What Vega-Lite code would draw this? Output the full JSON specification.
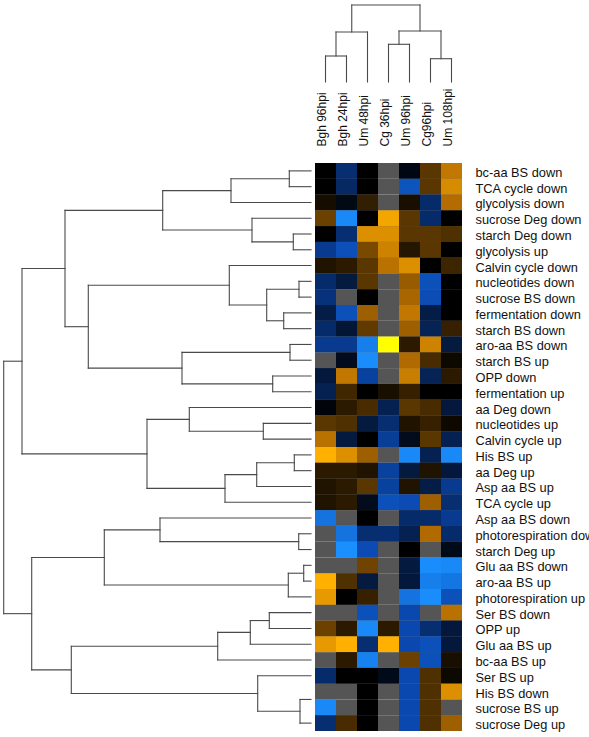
{
  "$schema": "https://vega.github.io/schema/vega-lite/v6.json",
  "padding": {"left": 2, "top": 4, "right": 0, "bottom": 0},
  "background": "white",
  "columns": 2,
  "spacing": {"row": 81, "column": 4},
  "bounds": "flush",
  "config": {
    "view": {"stroke": null},
    "font": "Liberation Sans",
    "axis": {"labelFont": "Liberation Sans", "labelFontSize": 12, "labelColor": "#111"}
  },
  "datasets": {
    "colTree": [
      {"x1": 0.5, "x2": 1.5, "h1": 26, "h2": 26},
      {"x1": 0.5, "x2": 0.5, "h1": 0, "h2": 26},
      {"x1": 1.5, "x2": 1.5, "h1": 0, "h2": 26},
      {"x1": 1.0, "x2": 2.5, "h1": 50, "h2": 50},
      {"x1": 1.0, "x2": 1.0, "h1": 26, "h2": 50},
      {"x1": 2.5, "x2": 2.5, "h1": 0, "h2": 50},
      {"x1": 3.5, "x2": 4.5, "h1": 37.7, "h2": 37.7},
      {"x1": 3.5, "x2": 3.5, "h1": 0, "h2": 37.7},
      {"x1": 4.5, "x2": 4.5, "h1": 0, "h2": 37.7},
      {"x1": 5.5, "x2": 6.5, "h1": 23.3, "h2": 23.3},
      {"x1": 5.5, "x2": 5.5, "h1": 0, "h2": 23.3},
      {"x1": 6.5, "x2": 6.5, "h1": 0, "h2": 23.3},
      {"x1": 4.0, "x2": 6.0, "h1": 51, "h2": 51},
      {"x1": 4.0, "x2": 4.0, "h1": 37.7, "h2": 51},
      {"x1": 6.0, "x2": 6.0, "h1": 23.3, "h2": 51},
      {"x1": 1.75, "x2": 5.0, "h1": 77, "h2": 77},
      {"x1": 1.75, "x2": 1.75, "h1": 50, "h2": 77},
      {"x1": 5.0, "x2": 5.0, "h1": 51, "h2": 77}
    ],
    "rowTree": [
      {"h1": 21.7, "h2": 21.7, "u1": 0.5, "u2": 1.5}, {"h1": 0, "h2": 21.7, "u1": 0.5, "u2": 0.5}, {"h1": 0, "h2": 21.7, "u1": 1.5, "u2": 1.5},
      {"h1": 80, "h2": 80, "u1": 1.0, "u2": 2.5}, {"h1": 21.7, "h2": 80, "u1": 1.0, "u2": 1.0}, {"h1": 0, "h2": 80, "u1": 2.5, "u2": 2.5},
      {"h1": 17.7, "h2": 17.7, "u1": 4.5, "u2": 5.5}, {"h1": 0, "h2": 17.7, "u1": 4.5, "u2": 4.5}, {"h1": 0, "h2": 17.7, "u1": 5.5, "u2": 5.5},
      {"h1": 59, "h2": 59, "u1": 3.5, "u2": 5.0}, {"h1": 0, "h2": 59, "u1": 3.5, "u2": 3.5}, {"h1": 17.7, "h2": 59, "u1": 5.0, "u2": 5.0},
      {"h1": 148.3, "h2": 148.3, "u1": 1.75, "u2": 4.25}, {"h1": 80, "h2": 148.3, "u1": 1.75, "u2": 1.75}, {"h1": 59, "h2": 148.3, "u1": 4.25, "u2": 4.25},
      {"h1": 12, "h2": 12, "u1": 7.5, "u2": 8.5}, {"h1": 0, "h2": 12, "u1": 7.5, "u2": 7.5}, {"h1": 0, "h2": 12, "u1": 8.5, "u2": 8.5},
      {"h1": 27.3, "h2": 27.3, "u1": 9.5, "u2": 10.5}, {"h1": 0, "h2": 27.3, "u1": 9.5, "u2": 9.5}, {"h1": 0, "h2": 27.3, "u1": 10.5, "u2": 10.5},
      {"h1": 44.3, "h2": 44.3, "u1": 8.0, "u2": 10.0}, {"h1": 12, "h2": 44.3, "u1": 8.0, "u2": 8.0}, {"h1": 27.3, "h2": 44.3, "u1": 10.0, "u2": 10.0},
      {"h1": 81.7, "h2": 81.7, "u1": 6.5, "u2": 9.0}, {"h1": 0, "h2": 81.7, "u1": 6.5, "u2": 6.5}, {"h1": 44.3, "h2": 81.7, "u1": 9.0, "u2": 9.0},
      {"h1": 21, "h2": 21, "u1": 11.5, "u2": 12.5}, {"h1": 0, "h2": 21, "u1": 11.5, "u2": 11.5}, {"h1": 0, "h2": 21, "u1": 12.5, "u2": 12.5},
      {"h1": 38.3, "h2": 38.3, "u1": 13.5, "u2": 14.5}, {"h1": 0, "h2": 38.3, "u1": 13.5, "u2": 13.5}, {"h1": 0, "h2": 38.3, "u1": 14.5, "u2": 14.5},
      {"h1": 129, "h2": 129, "u1": 12.0, "u2": 14.0}, {"h1": 21, "h2": 129, "u1": 12.0, "u2": 12.0}, {"h1": 38.3, "h2": 129, "u1": 14.0, "u2": 14.0},
      {"h1": 222.7, "h2": 222.7, "u1": 7.75, "u2": 13.0}, {"h1": 81.7, "h2": 222.7, "u1": 7.75, "u2": 7.75}, {"h1": 129, "h2": 222.7, "u1": 13.0, "u2": 13.0},
      {"h1": 246, "h2": 246, "u1": 3.0, "u2": 10.375}, {"h1": 148.3, "h2": 246, "u1": 3.0, "u2": 3.0}, {"h1": 222.7, "h2": 246, "u1": 10.375, "u2": 10.375},
      {"h1": 47.7, "h2": 47.7, "u1": 16.5, "u2": 17.5}, {"h1": 0, "h2": 47.7, "u1": 16.5, "u2": 16.5}, {"h1": 0, "h2": 47.7, "u1": 17.5, "u2": 17.5},
      {"h1": 121.7, "h2": 121.7, "u1": 15.5, "u2": 17.0}, {"h1": 0, "h2": 121.7, "u1": 15.5, "u2": 15.5}, {"h1": 47.7, "h2": 121.7, "u1": 17.0, "u2": 17.0},
      {"h1": 16.7, "h2": 16.7, "u1": 18.5, "u2": 19.5}, {"h1": 0, "h2": 16.7, "u1": 18.5, "u2": 18.5}, {"h1": 0, "h2": 16.7, "u1": 19.5, "u2": 19.5},
      {"h1": 54.3, "h2": 54.3, "u1": 19.0, "u2": 20.5}, {"h1": 16.7, "h2": 54.3, "u1": 19.0, "u2": 19.0}, {"h1": 0, "h2": 54.3, "u1": 20.5, "u2": 20.5},
      {"h1": 86, "h2": 86, "u1": 19.75, "u2": 21.5}, {"h1": 54.3, "h2": 86, "u1": 19.75, "u2": 19.75}, {"h1": 0, "h2": 86, "u1": 21.5, "u2": 21.5},
      {"h1": 164, "h2": 164, "u1": 16.25, "u2": 20.625}, {"h1": 121.7, "h2": 164, "u1": 16.25, "u2": 16.25}, {"h1": 86, "h2": 164, "u1": 20.625, "u2": 20.625},
      {"h1": 289, "h2": 289, "u1": 6.6875, "u2": 18.4375}, {"h1": 246, "h2": 289, "u1": 6.6875, "u2": 6.6875}, {"h1": 164, "h2": 289, "u1": 18.4375, "u2": 18.4375},
      {"h1": 12.3, "h2": 12.3, "u1": 23.5, "u2": 24.5}, {"h1": 0, "h2": 12.3, "u1": 23.5, "u2": 23.5}, {"h1": 0, "h2": 12.3, "u1": 24.5, "u2": 24.5},
      {"h1": 151, "h2": 151, "u1": 22.5, "u2": 24.0}, {"h1": 0, "h2": 151, "u1": 22.5, "u2": 22.5}, {"h1": 12.3, "h2": 151, "u1": 24.0, "u2": 24.0},
      {"h1": 7.3, "h2": 7.3, "u1": 25.5, "u2": 26.5}, {"h1": 0, "h2": 7.3, "u1": 25.5, "u2": 25.5}, {"h1": 0, "h2": 7.3, "u1": 26.5, "u2": 26.5},
      {"h1": 22.7, "h2": 22.7, "u1": 26.0, "u2": 27.5}, {"h1": 7.3, "h2": 22.7, "u1": 26.0, "u2": 26.0}, {"h1": 0, "h2": 22.7, "u1": 27.5, "u2": 27.5},
      {"h1": 206.7, "h2": 206.7, "u1": 23.25, "u2": 26.75}, {"h1": 151, "h2": 206.7, "u1": 23.25, "u2": 23.25}, {"h1": 22.7, "h2": 206.7, "u1": 26.75, "u2": 26.75},
      {"h1": 41.7, "h2": 41.7, "u1": 28.5, "u2": 29.5}, {"h1": 0, "h2": 41.7, "u1": 28.5, "u2": 28.5}, {"h1": 0, "h2": 41.7, "u1": 29.5, "u2": 29.5},
      {"h1": 60.7, "h2": 60.7, "u1": 29.0, "u2": 30.5}, {"h1": 41.7, "h2": 60.7, "u1": 29.0, "u2": 29.0}, {"h1": 0, "h2": 60.7, "u1": 30.5, "u2": 30.5},
      {"h1": 93.3, "h2": 93.3, "u1": 29.75, "u2": 31.5}, {"h1": 60.7, "h2": 93.3, "u1": 29.75, "u2": 29.75}, {"h1": 0, "h2": 93.3, "u1": 31.5, "u2": 31.5},
      {"h1": 11, "h2": 11, "u1": 34.0, "u2": 35.5}, {"h1": 0, "h2": 11, "u1": 34.0, "u2": 34.0}, {"h1": 0, "h2": 11, "u1": 35.5, "u2": 35.5},
      {"h1": 53.3, "h2": 53.3, "u1": 32.5, "u2": 34.75}, {"h1": 0, "h2": 53.3, "u1": 32.5, "u2": 32.5}, {"h1": 11, "h2": 53.3, "u1": 34.75, "u2": 34.75},
      {"h1": 239.7, "h2": 239.7, "u1": 30.625, "u2": 33.625}, {"h1": 93.3, "h2": 239.7, "u1": 30.625, "u2": 30.625}, {"h1": 53.3, "h2": 239.7, "u1": 33.625, "u2": 33.625},
      {"h1": 279.3, "h2": 279.3, "u1": 25.0, "u2": 32.125}, {"h1": 206.7, "h2": 279.3, "u1": 25.0, "u2": 25.0}, {"h1": 239.7, "h2": 279.3, "u1": 32.125, "u2": 32.125},
      {"h1": 307.3, "h2": 307.3, "u1": 12.5625, "u2": 28.5625}, {"h1": 289, "h2": 307.3, "u1": 12.5625, "u2": 12.5625}, {"h1": 279.3, "h2": 307.3, "u1": 28.5625, "u2": 28.5625}
    ],
    "cells": [
      {"pathway": "bc-aa BS down", "sample": "Bgh 96hpi", "value": 0}, {"pathway": "bc-aa BS down", "sample": "Bgh 24hpi", "value": -0.32}, {"pathway": "bc-aa BS down", "sample": "Um 48hpi", "value": 0}, {"pathway": "bc-aa BS down", "sample": "Cg 36hpi", "value": null}, {"pathway": "bc-aa BS down", "sample": "Um 96hpi", "value": -0.05}, {"pathway": "bc-aa BS down", "sample": "Cg96hpi", "value": 0.25}, {"pathway": "bc-aa BS down", "sample": "Um 108hpi", "value": 0.55},
      {"pathway": "TCA cycle down", "sample": "Bgh 96hpi", "value": 0}, {"pathway": "TCA cycle down", "sample": "Bgh 24hpi", "value": -0.28}, {"pathway": "TCA cycle down", "sample": "Um 48hpi", "value": 0}, {"pathway": "TCA cycle down", "sample": "Cg 36hpi", "value": null}, {"pathway": "TCA cycle down", "sample": "Um 96hpi", "value": -0.58}, {"pathway": "TCA cycle down", "sample": "Cg96hpi", "value": 0.25}, {"pathway": "TCA cycle down", "sample": "Um 108hpi", "value": 0.64},
      {"pathway": "glycolysis down", "sample": "Bgh 96hpi", "value": 0.06}, {"pathway": "glycolysis down", "sample": "Bgh 24hpi", "value": -0.06}, {"pathway": "glycolysis down", "sample": "Um 48hpi", "value": 0.14}, {"pathway": "glycolysis down", "sample": "Cg 36hpi", "value": null}, {"pathway": "glycolysis down", "sample": "Um 96hpi", "value": 0.07}, {"pathway": "glycolysis down", "sample": "Cg96hpi", "value": -0.3}, {"pathway": "glycolysis down", "sample": "Um 108hpi", "value": 0.5},
      {"pathway": "sucrose Deg down", "sample": "Bgh 96hpi", "value": 0.3}, {"pathway": "sucrose Deg down", "sample": "Bgh 24hpi", "value": -0.95}, {"pathway": "sucrose Deg down", "sample": "Um 48hpi", "value": 0}, {"pathway": "sucrose Deg down", "sample": "Cg 36hpi", "value": 0.75}, {"pathway": "sucrose Deg down", "sample": "Um 96hpi", "value": 0.25}, {"pathway": "sucrose Deg down", "sample": "Cg96hpi", "value": -0.3}, {"pathway": "sucrose Deg down", "sample": "Um 108hpi", "value": 0},
      {"pathway": "starch Deg down", "sample": "Bgh 96hpi", "value": 0}, {"pathway": "starch Deg down", "sample": "Bgh 24hpi", "value": -0.32}, {"pathway": "starch Deg down", "sample": "Um 48hpi", "value": 0.66}, {"pathway": "starch Deg down", "sample": "Cg 36hpi", "value": 0.66}, {"pathway": "starch Deg down", "sample": "Um 96hpi", "value": 0.25}, {"pathway": "starch Deg down", "sample": "Cg96hpi", "value": 0.25}, {"pathway": "starch Deg down", "sample": "Um 108hpi", "value": 0.22},
      {"pathway": "glycolysis up", "sample": "Bgh 96hpi", "value": -0.41}, {"pathway": "glycolysis up", "sample": "Bgh 24hpi", "value": -0.55}, {"pathway": "glycolysis up", "sample": "Um 48hpi", "value": 0.34}, {"pathway": "glycolysis up", "sample": "Cg 36hpi", "value": 0.6}, {"pathway": "glycolysis up", "sample": "Um 96hpi", "value": 0.1}, {"pathway": "glycolysis up", "sample": "Cg96hpi", "value": 0.25}, {"pathway": "glycolysis up", "sample": "Um 108hpi", "value": 0},
      {"pathway": "Calvin cycle down", "sample": "Bgh 96hpi", "value": 0.09}, {"pathway": "Calvin cycle down", "sample": "Bgh 24hpi", "value": 0.12}, {"pathway": "Calvin cycle down", "sample": "Um 48hpi", "value": 0.25}, {"pathway": "Calvin cycle down", "sample": "Cg 36hpi", "value": 0.52}, {"pathway": "Calvin cycle down", "sample": "Um 96hpi", "value": 0.66}, {"pathway": "Calvin cycle down", "sample": "Cg96hpi", "value": 0}, {"pathway": "Calvin cycle down", "sample": "Um 108hpi", "value": 0.17},
      {"pathway": "nucleotides down", "sample": "Bgh 96hpi", "value": -0.3}, {"pathway": "nucleotides down", "sample": "Bgh 24hpi", "value": -0.18}, {"pathway": "nucleotides down", "sample": "Um 48hpi", "value": 0.25}, {"pathway": "nucleotides down", "sample": "Cg 36hpi", "value": null}, {"pathway": "nucleotides down", "sample": "Um 96hpi", "value": 0.42}, {"pathway": "nucleotides down", "sample": "Cg96hpi", "value": -0.56}, {"pathway": "nucleotides down", "sample": "Um 108hpi", "value": 0},
      {"pathway": "sucrose BS down", "sample": "Bgh 96hpi", "value": -0.35}, {"pathway": "sucrose BS down", "sample": "Bgh 24hpi", "value": null}, {"pathway": "sucrose BS down", "sample": "Um 48hpi", "value": 0}, {"pathway": "sucrose BS down", "sample": "Cg 36hpi", "value": null}, {"pathway": "sucrose BS down", "sample": "Um 96hpi", "value": 0.47}, {"pathway": "sucrose BS down", "sample": "Cg96hpi", "value": -0.53}, {"pathway": "sucrose BS down", "sample": "Um 108hpi", "value": 0},
      {"pathway": "fermentation down", "sample": "Bgh 96hpi", "value": -0.2}, {"pathway": "fermentation down", "sample": "Bgh 24hpi", "value": -0.56}, {"pathway": "fermentation down", "sample": "Um 48hpi", "value": 0.44}, {"pathway": "fermentation down", "sample": "Cg 36hpi", "value": null}, {"pathway": "fermentation down", "sample": "Um 96hpi", "value": 0.55}, {"pathway": "fermentation down", "sample": "Cg96hpi", "value": -0.2}, {"pathway": "fermentation down", "sample": "Um 108hpi", "value": 0},
      {"pathway": "starch BS down", "sample": "Bgh 96hpi", "value": -0.3}, {"pathway": "starch BS down", "sample": "Bgh 24hpi", "value": -0.15}, {"pathway": "starch BS down", "sample": "Um 48hpi", "value": 0.27}, {"pathway": "starch BS down", "sample": "Cg 36hpi", "value": null}, {"pathway": "starch BS down", "sample": "Um 96hpi", "value": 0.44}, {"pathway": "starch BS down", "sample": "Cg96hpi", "value": -0.24}, {"pathway": "starch BS down", "sample": "Um 108hpi", "value": 0.15},
      {"pathway": "aro-aa BS down", "sample": "Bgh 96hpi", "value": -0.41}, {"pathway": "aro-aa BS down", "sample": "Bgh 24hpi", "value": -0.41}, {"pathway": "aro-aa BS down", "sample": "Um 48hpi", "value": -0.88}, {"pathway": "aro-aa BS down", "sample": "Cg 36hpi", "value": 1.0}, {"pathway": "aro-aa BS down", "sample": "Um 96hpi", "value": 0.12}, {"pathway": "aro-aa BS down", "sample": "Cg96hpi", "value": 0.6}, {"pathway": "aro-aa BS down", "sample": "Um 108hpi", "value": -0.18},
      {"pathway": "starch BS up", "sample": "Bgh 96hpi", "value": null}, {"pathway": "starch BS up", "sample": "Bgh 24hpi", "value": -0.08}, {"pathway": "starch BS up", "sample": "Um 48hpi", "value": -0.98}, {"pathway": "starch BS up", "sample": "Cg 36hpi", "value": null}, {"pathway": "starch BS up", "sample": "Um 96hpi", "value": 0.49}, {"pathway": "starch BS up", "sample": "Cg96hpi", "value": 0.2}, {"pathway": "starch BS up", "sample": "Um 108hpi", "value": 0.04},
      {"pathway": "OPP down", "sample": "Bgh 96hpi", "value": -0.17}, {"pathway": "OPP down", "sample": "Bgh 24hpi", "value": 0.55}, {"pathway": "OPP down", "sample": "Um 48hpi", "value": -0.45}, {"pathway": "OPP down", "sample": "Cg 36hpi", "value": null}, {"pathway": "OPP down", "sample": "Um 96hpi", "value": 0.58}, {"pathway": "OPP down", "sample": "Cg96hpi", "value": -0.24}, {"pathway": "OPP down", "sample": "Um 108hpi", "value": 0.12},
      {"pathway": "fermentation up", "sample": "Bgh 96hpi", "value": -0.23}, {"pathway": "fermentation up", "sample": "Bgh 24hpi", "value": 0.18}, {"pathway": "fermentation up", "sample": "Um 48hpi", "value": 0}, {"pathway": "fermentation up", "sample": "Cg 36hpi", "value": 0.07}, {"pathway": "fermentation up", "sample": "Um 96hpi", "value": 0.15}, {"pathway": "fermentation up", "sample": "Cg96hpi", "value": 0}, {"pathway": "fermentation up", "sample": "Um 108hpi", "value": 0},
      {"pathway": "aa Deg down", "sample": "Bgh 96hpi", "value": -0.03}, {"pathway": "aa Deg down", "sample": "Bgh 24hpi", "value": 0.12}, {"pathway": "aa Deg down", "sample": "Um 48hpi", "value": 0.2}, {"pathway": "aa Deg down", "sample": "Cg 36hpi", "value": -0.23}, {"pathway": "aa Deg down", "sample": "Um 96hpi", "value": 0.25}, {"pathway": "aa Deg down", "sample": "Cg96hpi", "value": 0.2}, {"pathway": "aa Deg down", "sample": "Um 108hpi", "value": -0.17},
      {"pathway": "nucleotides up", "sample": "Bgh 96hpi", "value": 0.25}, {"pathway": "nucleotides up", "sample": "Bgh 24hpi", "value": 0.22}, {"pathway": "nucleotides up", "sample": "Um 48hpi", "value": -0.18}, {"pathway": "nucleotides up", "sample": "Cg 36hpi", "value": -0.32}, {"pathway": "nucleotides up", "sample": "Um 96hpi", "value": 0.09}, {"pathway": "nucleotides up", "sample": "Cg96hpi", "value": 0.15}, {"pathway": "nucleotides up", "sample": "Um 108hpi", "value": 0.04},
      {"pathway": "Calvin cycle up", "sample": "Bgh 96hpi", "value": 0.52}, {"pathway": "Calvin cycle up", "sample": "Bgh 24hpi", "value": -0.18}, {"pathway": "Calvin cycle up", "sample": "Um 48hpi", "value": 0}, {"pathway": "Calvin cycle up", "sample": "Cg 36hpi", "value": -0.43}, {"pathway": "Calvin cycle up", "sample": "Um 96hpi", "value": -0.08}, {"pathway": "Calvin cycle up", "sample": "Cg96hpi", "value": 0.25}, {"pathway": "Calvin cycle up", "sample": "Um 108hpi", "value": -0.23},
      {"pathway": "His BS up", "sample": "Bgh 96hpi", "value": 0.8}, {"pathway": "His BS up", "sample": "Bgh 24hpi", "value": 0.66}, {"pathway": "His BS up", "sample": "Um 48hpi", "value": 0.44}, {"pathway": "His BS up", "sample": "Cg 36hpi", "value": null}, {"pathway": "His BS up", "sample": "Um 96hpi", "value": -0.95}, {"pathway": "His BS up", "sample": "Cg96hpi", "value": -0.23}, {"pathway": "His BS up", "sample": "Um 108hpi", "value": -0.95},
      {"pathway": "aa Deg up", "sample": "Bgh 96hpi", "value": 0.12}, {"pathway": "aa Deg up", "sample": "Bgh 24hpi", "value": 0.12}, {"pathway": "aa Deg up", "sample": "Um 48hpi", "value": 0.09}, {"pathway": "aa Deg up", "sample": "Cg 36hpi", "value": -0.45}, {"pathway": "aa Deg up", "sample": "Um 96hpi", "value": -0.18}, {"pathway": "aa Deg up", "sample": "Cg96hpi", "value": 0.09}, {"pathway": "aa Deg up", "sample": "Um 108hpi", "value": -0.17},
      {"pathway": "Asp aa BS up", "sample": "Bgh 96hpi", "value": 0.09}, {"pathway": "Asp aa BS up", "sample": "Bgh 24hpi", "value": 0.12}, {"pathway": "Asp aa BS up", "sample": "Um 48hpi", "value": 0.25}, {"pathway": "Asp aa BS up", "sample": "Cg 36hpi", "value": -0.45}, {"pathway": "Asp aa BS up", "sample": "Um 96hpi", "value": 0.09}, {"pathway": "Asp aa BS up", "sample": "Cg96hpi", "value": -0.2}, {"pathway": "Asp aa BS up", "sample": "Um 108hpi", "value": -0.41},
      {"pathway": "TCA cycle up", "sample": "Bgh 96hpi", "value": 0.09}, {"pathway": "TCA cycle up", "sample": "Bgh 24hpi", "value": 0.12}, {"pathway": "TCA cycle up", "sample": "Um 48hpi", "value": -0.08}, {"pathway": "TCA cycle up", "sample": "Cg 36hpi", "value": -0.56}, {"pathway": "TCA cycle up", "sample": "Um 96hpi", "value": -0.52}, {"pathway": "TCA cycle up", "sample": "Cg96hpi", "value": 0.44}, {"pathway": "TCA cycle up", "sample": "Um 108hpi", "value": -0.32},
      {"pathway": "Asp aa BS down", "sample": "Bgh 96hpi", "value": -0.8}, {"pathway": "Asp aa BS down", "sample": "Bgh 24hpi", "value": null}, {"pathway": "Asp aa BS down", "sample": "Um 48hpi", "value": 0}, {"pathway": "Asp aa BS down", "sample": "Cg 36hpi", "value": null}, {"pathway": "Asp aa BS down", "sample": "Um 96hpi", "value": -0.3}, {"pathway": "Asp aa BS down", "sample": "Cg96hpi", "value": -0.3}, {"pathway": "Asp aa BS down", "sample": "Um 108hpi", "value": -0.41},
      {"pathway": "photorespiration down", "sample": "Bgh 96hpi", "value": null}, {"pathway": "photorespiration down", "sample": "Bgh 24hpi", "value": -0.8}, {"pathway": "photorespiration down", "sample": "Um 48hpi", "value": -0.32}, {"pathway": "photorespiration down", "sample": "Cg 36hpi", "value": -0.32}, {"pathway": "photorespiration down", "sample": "Um 96hpi", "value": -0.23}, {"pathway": "photorespiration down", "sample": "Cg96hpi", "value": 0.49}, {"pathway": "photorespiration down", "sample": "Um 108hpi", "value": -0.3},
      {"pathway": "starch Deg up", "sample": "Bgh 96hpi", "value": null}, {"pathway": "starch Deg up", "sample": "Bgh 24hpi", "value": -1.0}, {"pathway": "starch Deg up", "sample": "Um 48hpi", "value": -0.52}, {"pathway": "starch Deg up", "sample": "Cg 36hpi", "value": null}, {"pathway": "starch Deg up", "sample": "Um 96hpi", "value": 0}, {"pathway": "starch Deg up", "sample": "Cg96hpi", "value": null}, {"pathway": "starch Deg up", "sample": "Um 108hpi", "value": -0.07},
      {"pathway": "Glu aa BS down", "sample": "Bgh 96hpi", "value": null}, {"pathway": "Glu aa BS down", "sample": "Bgh 24hpi", "value": null}, {"pathway": "Glu aa BS down", "sample": "Um 48hpi", "value": 0.31}, {"pathway": "Glu aa BS down", "sample": "Cg 36hpi", "value": null}, {"pathway": "Glu aa BS down", "sample": "Um 96hpi", "value": -0.18}, {"pathway": "Glu aa BS down", "sample": "Cg96hpi", "value": -0.98}, {"pathway": "Glu aa BS down", "sample": "Um 108hpi", "value": -0.95},
      {"pathway": "aro-aa BS up", "sample": "Bgh 96hpi", "value": 0.8}, {"pathway": "aro-aa BS up", "sample": "Bgh 24hpi", "value": 0.22}, {"pathway": "aro-aa BS up", "sample": "Um 48hpi", "value": -0.18}, {"pathway": "aro-aa BS up", "sample": "Cg 36hpi", "value": null}, {"pathway": "aro-aa BS up", "sample": "Um 96hpi", "value": -0.17}, {"pathway": "aro-aa BS up", "sample": "Cg96hpi", "value": -0.88}, {"pathway": "aro-aa BS up", "sample": "Um 108hpi", "value": -0.82},
      {"pathway": "photorespiration up", "sample": "Bgh 96hpi", "value": 0.7}, {"pathway": "photorespiration up", "sample": "Bgh 24hpi", "value": 0}, {"pathway": "photorespiration up", "sample": "Um 48hpi", "value": 0.15}, {"pathway": "photorespiration up", "sample": "Cg 36hpi", "value": null}, {"pathway": "photorespiration up", "sample": "Um 96hpi", "value": -0.8}, {"pathway": "photorespiration up", "sample": "Cg96hpi", "value": -0.98}, {"pathway": "photorespiration up", "sample": "Um 108hpi", "value": -0.56},
      {"pathway": "Ser BS down", "sample": "Bgh 96hpi", "value": null}, {"pathway": "Ser BS down", "sample": "Bgh 24hpi", "value": null}, {"pathway": "Ser BS down", "sample": "Um 48hpi", "value": -0.56}, {"pathway": "Ser BS down", "sample": "Cg 36hpi", "value": null}, {"pathway": "Ser BS down", "sample": "Um 96hpi", "value": -0.5}, {"pathway": "Ser BS down", "sample": "Cg96hpi", "value": null}, {"pathway": "Ser BS down", "sample": "Um 108hpi", "value": 0.52},
      {"pathway": "OPP up", "sample": "Bgh 96hpi", "value": 0.3}, {"pathway": "OPP up", "sample": "Bgh 24hpi", "value": 0.12}, {"pathway": "OPP up", "sample": "Um 48hpi", "value": -0.95}, {"pathway": "OPP up", "sample": "Cg 36hpi", "value": 0.12}, {"pathway": "OPP up", "sample": "Um 96hpi", "value": -0.5}, {"pathway": "OPP up", "sample": "Cg96hpi", "value": -0.32}, {"pathway": "OPP up", "sample": "Um 108hpi", "value": -0.17},
      {"pathway": "Glu aa BS up", "sample": "Bgh 96hpi", "value": 0.7}, {"pathway": "Glu aa BS up", "sample": "Bgh 24hpi", "value": 0.8}, {"pathway": "Glu aa BS up", "sample": "Um 48hpi", "value": -0.32}, {"pathway": "Glu aa BS up", "sample": "Cg 36hpi", "value": 0.8}, {"pathway": "Glu aa BS up", "sample": "Um 96hpi", "value": -0.5}, {"pathway": "Glu aa BS up", "sample": "Cg96hpi", "value": -0.56}, {"pathway": "Glu aa BS up", "sample": "Um 108hpi", "value": -0.17},
      {"pathway": "bc-aa BS up", "sample": "Bgh 96hpi", "value": null}, {"pathway": "bc-aa BS up", "sample": "Bgh 24hpi", "value": 0.12}, {"pathway": "bc-aa BS up", "sample": "Um 48hpi", "value": -0.9}, {"pathway": "bc-aa BS up", "sample": "Cg 36hpi", "value": null}, {"pathway": "bc-aa BS up", "sample": "Um 96hpi", "value": 0.3}, {"pathway": "bc-aa BS up", "sample": "Cg96hpi", "value": -0.56}, {"pathway": "bc-aa BS up", "sample": "Um 108hpi", "value": 0.07},
      {"pathway": "Ser BS up", "sample": "Bgh 96hpi", "value": -0.3}, {"pathway": "Ser BS up", "sample": "Bgh 24hpi", "value": 0}, {"pathway": "Ser BS up", "sample": "Um 48hpi", "value": 0}, {"pathway": "Ser BS up", "sample": "Cg 36hpi", "value": -0.07}, {"pathway": "Ser BS up", "sample": "Um 96hpi", "value": -0.5}, {"pathway": "Ser BS up", "sample": "Cg96hpi", "value": 0.22}, {"pathway": "Ser BS up", "sample": "Um 108hpi", "value": 0.04},
      {"pathway": "His BS down", "sample": "Bgh 96hpi", "value": null}, {"pathway": "His BS down", "sample": "Bgh 24hpi", "value": null}, {"pathway": "His BS down", "sample": "Um 48hpi", "value": 0}, {"pathway": "His BS down", "sample": "Cg 36hpi", "value": null}, {"pathway": "His BS down", "sample": "Um 96hpi", "value": -0.5}, {"pathway": "His BS down", "sample": "Cg96hpi", "value": 0.22}, {"pathway": "His BS down", "sample": "Um 108hpi", "value": 0.66},
      {"pathway": "sucrose BS up", "sample": "Bgh 96hpi", "value": -0.95}, {"pathway": "sucrose BS up", "sample": "Bgh 24hpi", "value": null}, {"pathway": "sucrose BS up", "sample": "Um 48hpi", "value": 0}, {"pathway": "sucrose BS up", "sample": "Cg 36hpi", "value": null}, {"pathway": "sucrose BS up", "sample": "Um 96hpi", "value": -0.5}, {"pathway": "sucrose BS up", "sample": "Cg96hpi", "value": 0.22}, {"pathway": "sucrose BS up", "sample": "Um 108hpi", "value": null},
      {"pathway": "sucrose Deg up", "sample": "Bgh 96hpi", "value": -0.32}, {"pathway": "sucrose Deg up", "sample": "Bgh 24hpi", "value": 0.2}, {"pathway": "sucrose Deg up", "sample": "Um 48hpi", "value": 0}, {"pathway": "sucrose Deg up", "sample": "Cg 36hpi", "value": null}, {"pathway": "sucrose Deg up", "sample": "Um 96hpi", "value": -0.5}, {"pathway": "sucrose Deg up", "sample": "Cg96hpi", "value": 0.22}, {"pathway": "sucrose Deg up", "sample": "Um 108hpi", "value": 0.44}
    ]
  },
  "concat": [
    {
      "width": 308, "height": 77,
      "data": {"values": []},
      "mark": {"type": "point", "opacity": 0},
      "encoding": {}
    },
    {
      "width": 147, "height": 77,
      "data": {"name": "colTree"},
      "mark": {"type": "rule", "color": "#4a4a4a", "strokeWidth": 1.1, "strokeCap": "square"},
      "encoding": {
        "x": {"field": "x1", "type": "quantitative", "scale": {"domain": [0, 7], "nice": false, "zero": false}, "axis": null},
        "x2": {"field": "x2"},
        "y": {"field": "h1", "type": "quantitative", "scale": {"domain": [0, 77], "nice": false}, "axis": null},
        "y2": {"field": "h2"}
      }
    },
    {
      "width": 308, "height": 568,
      "data": {"name": "rowTree"},
      "mark": {"type": "rule", "color": "#4a4a4a", "strokeWidth": 1.1, "strokeCap": "square"},
      "encoding": {
        "x": {"field": "h1", "type": "quantitative", "scale": {"domain": [0, 308], "reverse": true, "nice": false, "zero": false}, "axis": null},
        "x2": {"field": "h2"},
        "y": {"field": "u1", "type": "quantitative", "scale": {"domain": [0, 36], "reverse": true, "nice": false, "zero": false}, "axis": null},
        "y2": {"field": "u2"}
      }
    },
    {
      "width": 147, "height": 568,
      "data": {"name": "cells"},
      "encoding": {
        "x": {
          "field": "sample", "type": "nominal",
          "sort": ["Bgh 96hpi", "Bgh 24hpi", "Um 48hpi", "Cg 36hpi", "Um 96hpi", "Cg96hpi", "Um 108hpi"],
          "scale": {"paddingInner": 0, "paddingOuter": 0},
          "axis": {"orient": "top", "labelAngle": -90, "labelAlign": "left", "labelBaseline": "alphabetic", "ticks": false, "domain": false, "labelPadding": 17, "title": null}
        },
        "y": {
          "field": "pathway", "type": "nominal",
          "sort": ["bc-aa BS down", "TCA cycle down", "glycolysis down", "sucrose Deg down", "starch Deg down", "glycolysis up", "Calvin cycle down", "nucleotides down", "sucrose BS down", "fermentation down", "starch BS down", "aro-aa BS down", "starch BS up", "OPP down", "fermentation up", "aa Deg down", "nucleotides up", "Calvin cycle up", "His BS up", "aa Deg up", "Asp aa BS up", "TCA cycle up", "Asp aa BS down", "photorespiration down", "starch Deg up", "Glu aa BS down", "aro-aa BS up", "photorespiration up", "Ser BS down", "OPP up", "Glu aa BS up", "bc-aa BS up", "Ser BS up", "His BS down", "sucrose BS up", "sucrose Deg up"],
          "scale": {"paddingInner": 0, "paddingOuter": 0},
          "axis": {"orient": "right", "ticks": false, "domain": false, "labelPadding": 13, "labelFontSize": 12.8, "labelBaseline": "middle", "labelOffset": 2, "title": null}
        }
      },
      "layer": [
        {"mark": {"type": "rect", "color": "#555555"}},
        {
          "transform": [{"filter": "isValid(datum.value)"}],
          "mark": {"type": "rect"},
          "encoding": {
            "color": {
              "field": "value", "type": "quantitative",
              "scale": {"domain": [-1, -0.5, 0, 0.5, 0.8, 1], "range": ["#1a90ff", "#0a48b0", "#000000", "#b46c00", "#ffb000", "#ffff00"], "interpolate": "rgb"},
              "legend": null
            }
          }
        }
      ]
    }
  ]
}
